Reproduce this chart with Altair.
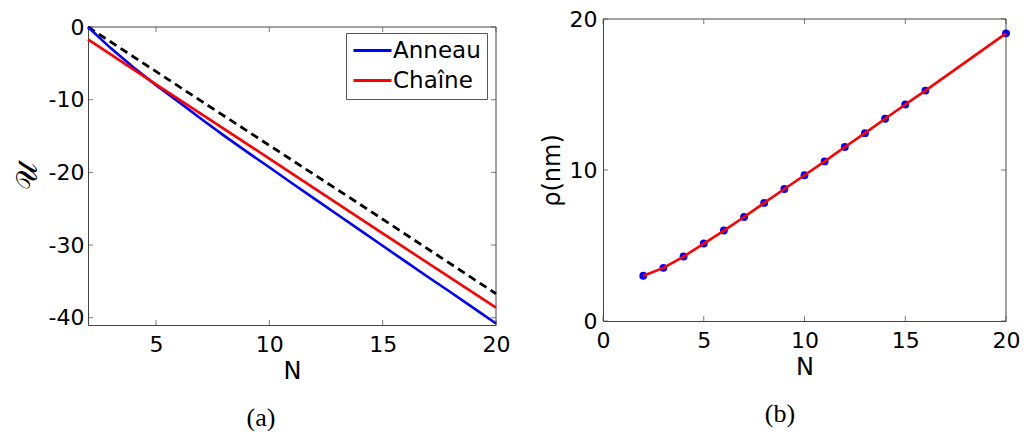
import altair as alt
import pandas as pd

# ---------------- data ----------------
# panel (a)
N_ring = [2, 3, 4, 5, 6, 7, 8, 9, 10, 11, 12, 13, 14, 15, 16, 17, 18, 19, 20]
U_ring = [0.0, -2.9, -5.55, -8.0, -10.3, -12.65, -14.95, -17.15, -19.3, -21.5,
          -23.65, -25.8, -27.95, -30.1, -32.25, -34.4, -36.5, -38.65, -40.8]
N_chain = [2, 5, 10, 15, 20]
U_chain = [-1.7, -7.9, -18.1, -28.4, -38.6]
N_dash = [2, 7, 14, 20]
U_dash = [0.0, -10.2, -24.4, -36.7]
series_names = ["Anneau", "Chaîne"]
series_colors = ["#0000ff", "#ff0000"]
xticks_a = [5, 10, 15, 20]
yticks_a = [0, -10, -20, -30, -40]
xdom_a = [2, 20]
ydom_a = [-41, 0]

# panel (b)
N_rho = [2, 3, 4, 5, 6, 7, 8, 9, 10, 11, 12, 13, 14, 15, 16, 20]
rho = [3.0, 3.52, 4.27, 5.13, 5.99, 6.89, 7.82, 8.74, 9.65, 10.57, 11.52,
       12.44, 13.39, 14.34, 15.26, 19.05]
xticks_b = [0, 5, 10, 15, 20]
yticks_b = [0, 10, 20]
xdom_b = [0, 20]
ydom_b = [0, 20]

# ---------------- styling ----------------
FONT = "DejaVu Sans"
FRAME = "#444444"
W1, H1, TOP1 = 408, 306, 8
W2, H2 = 403, 302
TK = 5
MINUS_FIX = "replace(datum.label, '\u2212', '-')"

def axis_kw(values, title, label_pad, title_pad, title_font=FONT, title_size=24):
    return alt.Axis(values=values, title=title, ticks=False, grid=False,
                    labelPadding=label_pad, titlePadding=title_pad,
                    titleFont=title_font, titleFontSize=title_size,
                    domainColor=FRAME, labelFlush=False, labelOverlap=False,
                    labelExpr=MINUS_FIX)

# ---------------- panel (a) ----------------
xs_a = alt.Scale(domain=xdom_a, nice=False, zero=False)
ys_a = alt.Scale(domain=ydom_a, nice=False, zero=False, range=[H1, TOP1])

df_a = pd.concat([
    pd.DataFrame({"N": N_ring, "U": U_ring, "serie": series_names[0]}),
    pd.DataFrame({"N": N_chain, "U": U_chain, "serie": series_names[1]}),
])
df_dash = pd.DataFrame({"N": N_dash, "U": U_dash})

lines_a = alt.Chart(df_a).mark_line(strokeWidth=2.6).encode(
    x=alt.X("N:Q", scale=xs_a, axis=axis_kw(xticks_a, "N", 9, 4)),
    y=alt.Y("U:Q", scale=ys_a,
            axis=axis_kw(yticks_a, "𝒰", 4, 6, title_font="DejaVu Serif", title_size=30)),
    color=alt.Color("serie:N",
                    scale=alt.Scale(domain=series_names, range=series_colors),
                    legend=alt.Legend(title=None, orient="none", legendX=258, legendY=14,
                                      symbolType="M-1,0H2.8", symbolSize=400,
                                      symbolStrokeWidth=3, labelOffset=18,
                                      labelFont=FONT, labelFontSize=23,
                                      labelColor="black", rowPadding=6,
                                      padding=6, strokeColor="#555555",
                                      fillColor="white", cornerRadius=0)),
)
dash_a = alt.Chart(df_dash).mark_line(strokeWidth=2.8, color="black",
                                      strokeDash=[8, 5]).encode(
    x=alt.X("N:Q", scale=xs_a), y=alt.Y("U:Q", scale=ys_a))

xt_a = pd.DataFrame({"v": xticks_a})
yt_a = pd.DataFrame({"v": yticks_a})
tick_xb_a = alt.Chart(xt_a).mark_tick(orient="vertical", size=TK, thickness=1,
                                      color=FRAME).encode(
    x=alt.X("v:Q", scale=xs_a), y=alt.value(H1 - TK / 2))
tick_xt_a = alt.Chart(xt_a).mark_tick(orient="vertical", size=TK, thickness=1,
                                      color=FRAME).encode(
    x=alt.X("v:Q", scale=xs_a), y=alt.value(TOP1 + TK / 2))
tick_yl_a = alt.Chart(yt_a).mark_tick(orient="horizontal", size=TK, thickness=1,
                                      color=FRAME).encode(
    y=alt.Y("v:Q", scale=ys_a), x=alt.value(TK / 2))
tick_yr_a = alt.Chart(yt_a).mark_tick(orient="horizontal", size=TK, thickness=1,
                                      color=FRAME).encode(
    y=alt.Y("v:Q", scale=ys_a), x=alt.value(W1 - TK / 2))

frame_df_a = pd.DataFrame({"x1": [xdom_a[0], xdom_a[1]], "x2": [xdom_a[1], xdom_a[1]],
                           "y1": [ydom_a[1], ydom_a[0]], "y2": [ydom_a[1], ydom_a[1]]})
frame_a = alt.Chart(frame_df_a).mark_rule(color=FRAME, strokeWidth=1).encode(
    x=alt.X("x1:Q", scale=xs_a), x2="x2:Q",
    y=alt.Y("y1:Q", scale=ys_a), y2="y2:Q")

panel_a = alt.layer(tick_xb_a, tick_xt_a, tick_yl_a, tick_yr_a, frame_a,
                    dash_a, lines_a).properties(
    width=W1, height=H1,
    title=alt.TitleParams("(a)", orient="bottom", anchor="middle", frame="bounds",
                          font="Liberation Serif", fontSize=26, fontWeight="normal",
                          color="black", offset=22))

# ---------------- panel (b) ----------------
xs_b = alt.Scale(domain=xdom_b, nice=False, zero=False)
ys_b = alt.Scale(domain=ydom_b, nice=False, zero=False)
df_b = pd.DataFrame({"N": N_rho, "rho": rho})

pts_b = alt.Chart(df_b).mark_circle(size=62, color="#0000ff", opacity=1).encode(
    x=alt.X("N:Q", scale=xs_b, axis=axis_kw(xticks_b, "N", 9, 4)),
    y=alt.Y("rho:Q", scale=ys_b, axis=axis_kw(yticks_b, "ρ(nm)", 6, 5)),
)
line_b = alt.Chart(df_b).mark_line(color="#ff0000", strokeWidth=2.6).encode(
    x=alt.X("N:Q", scale=xs_b), y=alt.Y("rho:Q", scale=ys_b))

xt_b = pd.DataFrame({"v": xticks_b})
yt_b = pd.DataFrame({"v": yticks_b})
tick_xb_b = alt.Chart(xt_b).mark_tick(orient="vertical", size=TK, thickness=1,
                                      color=FRAME).encode(
    x=alt.X("v:Q", scale=xs_b), y=alt.value(H2 - TK / 2))
tick_xt_b = alt.Chart(xt_b).mark_tick(orient="vertical", size=TK, thickness=1,
                                      color=FRAME).encode(
    x=alt.X("v:Q", scale=xs_b), y=alt.value(TK / 2))
tick_yl_b = alt.Chart(yt_b).mark_tick(orient="horizontal", size=TK, thickness=1,
                                      color=FRAME).encode(
    y=alt.Y("v:Q", scale=ys_b), x=alt.value(TK / 2))
tick_yr_b = alt.Chart(yt_b).mark_tick(orient="horizontal", size=TK, thickness=1,
                                      color=FRAME).encode(
    y=alt.Y("v:Q", scale=ys_b), x=alt.value(W2 - TK / 2))

frame_df_b = pd.DataFrame({"x1": [xdom_b[0], xdom_b[1]], "x2": [xdom_b[1], xdom_b[1]],
                           "y1": [ydom_b[1], ydom_b[0]], "y2": [ydom_b[1], ydom_b[1]]})
frame_b = alt.Chart(frame_df_b).mark_rule(color=FRAME, strokeWidth=1).encode(
    x=alt.X("x1:Q", scale=xs_b), x2="x2:Q",
    y=alt.Y("y1:Q", scale=ys_b), y2="y2:Q")

panel_b = alt.layer(tick_xb_b, tick_xt_b, tick_yl_b, tick_yr_b, frame_b,
                    pts_b, line_b).properties(
    width=W2, height=H2,
    title=alt.TitleParams("(b)", orient="bottom", anchor="middle", frame="bounds",
                          font="Liberation Serif", fontSize=26, fontWeight="normal",
                          color="black", offset=22))

chart = alt.hconcat(panel_a, panel_b, spacing=30).properties(
    padding={"left": 4, "top": 0, "right": 0, "bottom": 0},
    background="white",
).configure_view(stroke=None).configure_axis(
    labelFont=FONT, labelFontSize=22, labelColor="black",
    titleFont=FONT, titleFontWeight="normal", titleColor="black",
)

chart.save("out.html", embed_options={"renderer": "svg", "actions": False})
